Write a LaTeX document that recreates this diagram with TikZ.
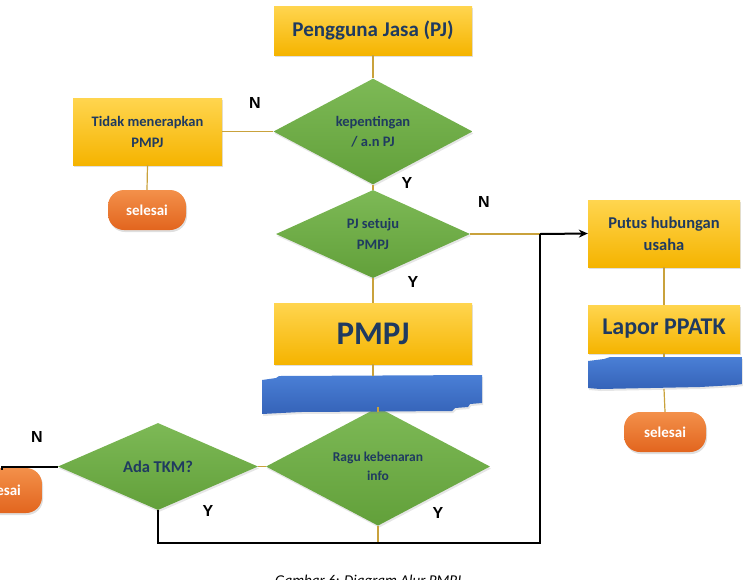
\documentclass[tikz,border=0pt]{standalone}
\usepackage{fontspec}
\setmainfont{Carlito}
\newfontfamily\arialf{Liberation Sans}
\usetikzlibrary{shapes.geometric,shadows,arrows.meta}
\definecolor{yT}{HTML}{FFD54F}
\definecolor{yB}{HTML}{F5B400}
\definecolor{gT}{HTML}{7DB956}
\definecolor{gB}{HTML}{62A03A}
\definecolor{oT}{HTML}{F3904A}
\definecolor{oB}{HTML}{E2651E}
\definecolor{bT}{HTML}{4A7FD6}
\definecolor{bB}{HTML}{3563B8}
\definecolor{navy}{HTML}{1F3A60}
\definecolor{gold}{HTML}{C9A23C}
\tikzset{
  ybox/.style={rectangle, inner sep=2pt, top color=yT, bottom color=yB, text=navy, align=center,
    font=\bfseries, drop shadow={opacity=0.25, shadow xshift=1pt, shadow yshift=-2pt}},
  gdia/.style={diamond, inner sep=0pt, top color=gT, bottom color=gB, text=navy, align=center,
    font=\bfseries\fontsize{14.5}{20.5}\selectfont, drop shadow={opacity=0.2, shadow xshift=1pt, shadow yshift=-2pt}},
  pill/.style={rectangle, rounded corners=16pt, top color=oT, bottom color=oB, text=white,
    font=\bfseries\fontsize{15}{17}\selectfont, drop shadow={opacity=0.25, shadow xshift=1pt, shadow yshift=-2pt}},
  conn/.style={draw=gold, line width=1.2pt},
  blk/.style={draw=black, line width=2pt},
  lab/.style={font=\arialf\bfseries\fontsize{16}{18}\selectfont, text=black},
  blueshape/.style={top color=bT, bottom color=bB, draw=none, drop shadow={opacity=0.2, shadow xshift=1pt, shadow yshift=-2pt}}
}
\begin{document}
\begin{tikzpicture}[x=1pt,y=-1pt]
\useasboundingbox (0,0) rectangle (743,579);
% nodes
\node[ybox, minimum width=198pt, minimum height=49pt, font=\bfseries\fontsize{21}{24}\selectfont] (pj) at (373,30.5) {Pengguna Jasa (PJ)};
\node[gdia, minimum width=199pt, minimum height=97pt] (d1) at (373,131.5) {kepentingan\\/ a.n PJ};
\node[ybox, minimum width=149pt, minimum height=67pt, font=\bfseries\fontsize{14.5}{21}\selectfont] (tidak) at (147.5,131.5) {Tidak menerapkan\\PMPJ};
\node[pill, minimum width=78pt, minimum height=40pt] (sel1) at (147,210) {selesai};
\node[gdia, minimum width=194pt, minimum height=88pt] (d2) at (373,234) {PJ setuju\\PMPJ};
\node[ybox, minimum width=198pt, minimum height=61pt, font=\bfseries\fontsize{33}{36}\selectfont] (pmpj) at (373,333.5) {PMPJ};
\node[gdia, minimum width=224pt, minimum height=97pt, font=\bfseries\fontsize{13.5}{18.5}\selectfont] (d3) at (378,466.5) {Ragu kebenaran\\info};
\node[gdia, minimum width=200pt, minimum height=87pt, font=\bfseries\fontsize{16.5}{19}\selectfont] (tkm) at (158,466.5) {Ada TKM?};
\node[pill, minimum width=84pt, minimum height=45pt] (sel3) at (0,490.5) {selesai};
\node[ybox, minimum width=152pt, minimum height=67pt, font=\bfseries\fontsize{16.5}{22}\selectfont] (putus) at (664,233.5) {Putus hubungan\\usaha};
\node[ybox, minimum width=152pt, minimum height=48pt, font=\bfseries\fontsize{24}{27}\selectfont] (lapor) at (664,329) {Lapor PPATK};
\node[pill, minimum width=82pt, minimum height=40pt] (sel2) at (665,432) {selesai};
% blue banners
\path[blueshape] (262,380) -- (276,378) -- (279,376) -- (482,375) -- (482,403) -- (470,404) -- (468,407) -- (455,408) -- (452,411) -- (300,412) -- (262,414) -- cycle;
\path[blueshape] (588,361) -- (604,359) -- (610,357) -- (742,357) -- (742,384) -- (735,385) -- (700,387) -- (600,389) -- (588,388) -- cycle;
\coordinate (b1t) at (373,376);
\coordinate (b1b) at (378,412);
\coordinate (b2t) at (664,357);
\coordinate (b2b) at (664,389);
\coordinate (jn) at (540,234);
\coordinate (jb) at (540,543);
\coordinate (d3b) at (378,543);
\coordinate (tkmb) at (158,543);
\coordinate (selL) at (2,466.5);
\coordinate (selL2) at (2,470);
% gold connectors
\draw[conn] (pj.south) -- (d1.north);
\draw[conn] (d1.west) -- (tidak.east);
\draw[conn] (tidak.south) -- (sel1.north);
\draw[conn] (d1.south) -- (d2.north);
\draw[conn] (d2.south) -- (pmpj.north);
\draw[conn] (pmpj.south) -- (b1t);
\draw[conn] (b1b) -- (d3.north);
\draw[conn] (d3.west) -- (tkm.east);
\draw[conn] (d3.south) -- (d3b);
\draw[conn] (d2.east) -- (jn);
\draw[conn] (putus.south) -- (lapor.north);
\draw[conn] (lapor.south) -- (b2t);
\draw[conn] (b2b) -- (sel2.north);
% black connectors
\draw[blk, -{Stealth[length=9pt,width=8pt]}] (jn) -- (putus.west);
\draw[blk] (tkm.south) -- (tkmb) -- (jb) -- (jn);
\draw[blk] (tkm.west) -- (selL) -- (selL2);
% labels
\node[lab] (n1) at (255,103) {N};
\node[lab] (y1) at (407,183) {Y};
\node[lab] (n2) at (484,202) {N};
\node[lab] (y2) at (413,282) {Y};
\node[lab] (n3) at (37,437) {N};
\node[lab] (y3) at (208,511) {Y};
\node[lab] (y4) at (438,513) {Y};
\node[anchor=base, font=\itshape\fontsize{15}{17}\selectfont] (cap) at (368,585) {Gambar 6: Diagram Alur PMPJ};
\end{tikzpicture}
\end{document}
